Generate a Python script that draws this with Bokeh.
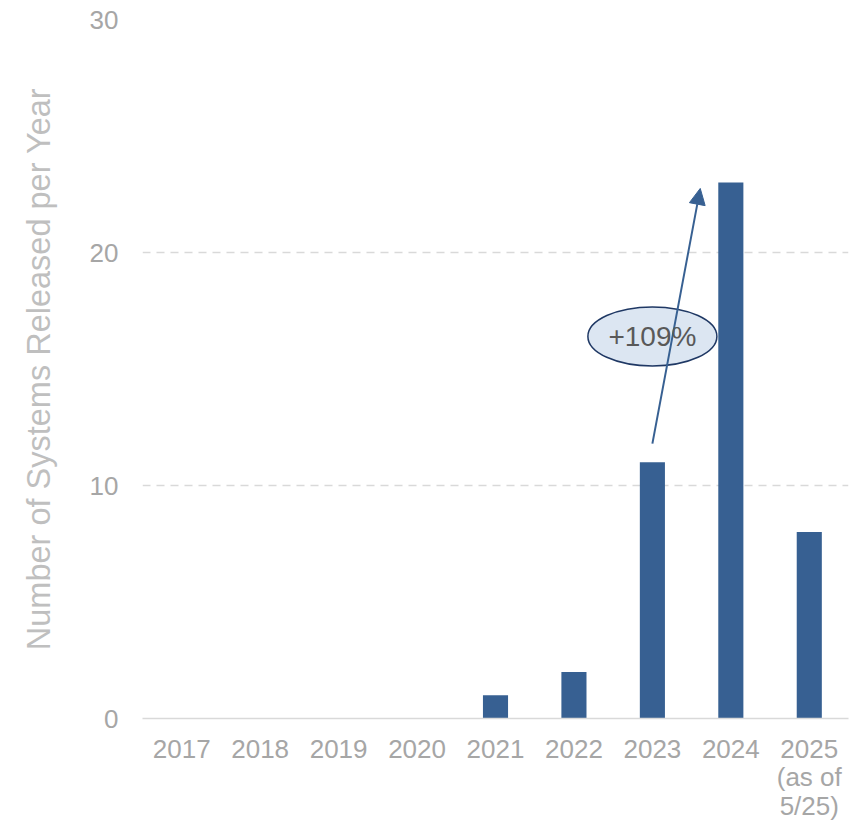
from bokeh.plotting import figure
from bokeh.models import Range1d, FixedTicker, Arrow, NormalHead, Label
from bokeh.embed import file_html
from bokeh.resources import INLINE

years = ["2017", "2018", "2019", "2020", "2021", "2022", "2023", "2024", "2025\n(as of\n5/25)"]
systems = [0, 0, 0, 0, 1, 2, 11, 23, 8]
y_ticks = [0, 10, 20, 30]
y_label = "Number of Systems Released per Year"

BAR = "#376092"
FONT = "Liberation Sans"

p = figure(x_range=years, y_range=Range1d(0, 30), width=858, height=823,
           min_border_left=142, min_border_right=10, min_border_top=19, min_border_bottom=105,
           output_backend="svg", toolbar_location=None)
p.outline_line_color = None
p.background_fill_color = None

p.vbar(x=years, top=systems, width=0.32, fill_color=BAR, line_color=None)

# axes
p.yaxis.ticker = FixedTicker(ticks=y_ticks)
p.yaxis.axis_line_color = None
p.yaxis.major_tick_line_color = None
p.yaxis.minor_tick_line_color = None
p.yaxis.major_label_text_font = FONT
p.yaxis.major_label_text_font_size = "26px"
p.yaxis.major_label_text_color = "#a6a6a6"
p.yaxis.major_label_standoff = 18
p.yaxis.axis_label = y_label
p.yaxis.axis_label_text_font = FONT
p.yaxis.axis_label_text_font_size = "32.5px"
p.yaxis.axis_label_text_font_style = "normal"
p.yaxis.axis_label_text_color = "#bfbfbf"
p.yaxis.axis_label_standoff = 30

p.xaxis.axis_line_color = "#d9d9d9"
p.xaxis.axis_line_width = 1.5
p.xaxis.major_tick_line_color = None
p.xaxis.minor_tick_line_color = None
p.xaxis.major_label_text_font = FONT
p.xaxis.major_label_text_font_size = "26px"
p.xaxis.major_label_text_color = "#a6a6a6"
p.xaxis.major_label_text_line_height = 0.95
p.xaxis.major_label_standoff = 9

p.xgrid.grid_line_color = None
p.ygrid.ticker = FixedTicker(ticks=y_ticks[1:])
p.ygrid.grid_line_color = "#d9d9d9"
p.ygrid.grid_line_dash = "8 6"
p.ygrid.grid_line_width = 1.3

# growth annotation
i23 = years.index("2023")
i24 = years.index("2024")
growth = round((systems[i24] - systems[i23]) / systems[i23] * 100)
p.add_layout(Arrow(end=NormalHead(size=16, fill_color=BAR, line_color=BAR),
                   x_start=i23 + 0.5, y_start=systems[i23] + 0.8,
                   x_end=i24 + 0.11, y_end=systems[i24] - 0.25,
                   line_color=BAR, line_width=2))
p.ellipse(x=[i23 + 0.5], y=[16.4], width=129, height=59,
          width_units="screen", height_units="screen",
          fill_color="#dce6f2", line_color="#1f3864", line_width=1.5)
p.add_layout(Label(x=i23 + 0.5, y=16.4, text=f"+{growth}%", text_align="center",
                   text_baseline="middle", text_font=FONT, text_font_size="28px",
                   text_color="#595959"))

open("out.html", "w").write(file_html(p, INLINE))
